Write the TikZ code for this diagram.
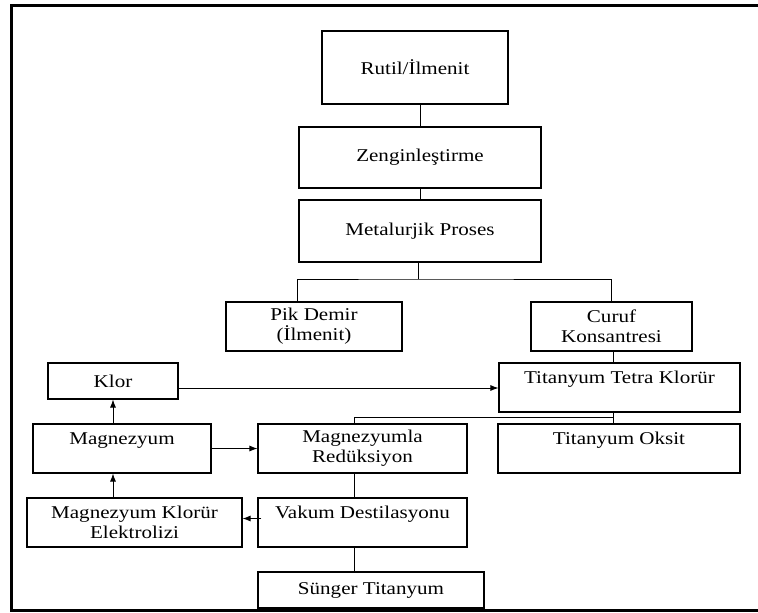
\documentclass[tikz,border=0pt]{standalone}
\usepackage{fontspec}
\setmainfont{Liberation Serif}[FakeStretch=1.17]
\usetikzlibrary{arrows.meta,positioning,calc}

\begin{document}
\begin{tikzpicture}[x=1pt, y=-1pt, >={Latex[length=8pt,width=6pt]},
    box/.style={draw, line width=1.1pt, align=center, inner sep=0pt,
      font=\fontsize{18}{20}\selectfont},
    link/.style={line width=0.9pt}]
  \useasboundingbox (0,0) rectangle (758,613);
  % outer frame, open on the right
  \draw[line width=3pt] (758,5.5) -- (11.5,5.5) -- (11.5,610) -- (758,610);

  \node[box, minimum width=186pt, minimum height=73pt] (rutil) at (415,67.5) {Rutil/İlmenit};
  \node[box, minimum width=242pt, minimum height=61pt] (zengin) at (420,157.5) {Zenginleştirme};
  \node[box, minimum width=242pt, minimum height=62pt] (metal) at (420,231) {Metalurjik Proses};
  \node[box, minimum width=176pt, minimum height=49pt] (pik) at (314,326.5) {Pik Demir\\(İlmenit)};
  \node[box, minimum width=161pt, minimum height=49pt] (curuf) at (611.5,326.5) {Curuf\\Konsantresi};
  \node[box, minimum width=130pt, minimum height=36pt] (klor) at (113,381) {Klor};
  \node[box, minimum width=241pt, minimum height=49pt] (ttk) at (619.5,387.5) {Titanyum Tetra Klorür\\~};
  \node[box, minimum width=178pt, minimum height=49pt] (magn) at (122,448.5) {Magnezyum\\~};
  \node[box, minimum width=209pt, minimum height=49pt] (mred) at (362.5,448.5) {Magnezyumla\\Redüksiyon};
  \node[box, minimum width=242pt, minimum height=49pt] (toksit) at (619,448.5) {Titanyum Oksit\\~};
  \node[box, minimum width=215pt, minimum height=49pt] (mke) at (134.5,522.5) {Magnezyum Klorür\\Elektrolizi};
  \node[box, minimum width=209pt, minimum height=49pt] (vakum) at (362.5,522.5) {Vakum Destilasyonu\\~};
  \node[box, minimum width=226pt, minimum height=36pt] (sunger) at (371,590) {Sünger Titanyum};

  \coordinate (split1) at (418,279);
  \coordinate (split2) at (613,417);

  \draw[link] (zengin.north |- rutil.south) -- (zengin.north);
  \draw[link] (zengin) -- (metal);
  \draw[link] (split1 |- metal.south) -- (split1);
  \draw[link] ([xshift=-17pt]pik.north) |- (split1) -| (curuf.north);
  \draw[link] (split2 |- curuf.south) -- (split2 |- ttk.north);
  \draw[link] (split2 |- ttk.south) -- (split2 |- toksit.north);
  \draw[link] (split2) -| ([xshift=-8.5pt]mred.north);
  \draw[link] ([xshift=-8.5pt]mred.south) -- ([xshift=-8.5pt]vakum.north);
  \draw[link] ([xshift=-8.5pt]vakum.south) -- ([xshift=-17pt]sunger.north);

  \draw[link, ->] ([yshift=-7pt]klor.east) -- ([yshift=-7pt]klor.east -| ttk.west);
  \draw[link, ->] (magn) -- (mred);
  \draw[link, ->] (magn.north -| klor) -- (klor.south);
  \draw[link, ->] (mke.north -| klor) -- (magn.south -| klor);
  \draw[link, ->] ([xshift=4pt,yshift=4pt]vakum.west) -- ([yshift=4pt]mke.east);
\end{tikzpicture}
\end{document}
